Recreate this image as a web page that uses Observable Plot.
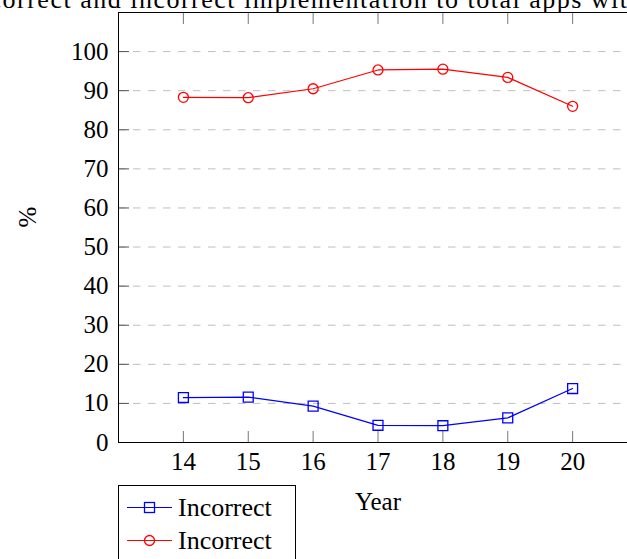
<!DOCTYPE html>
<html><head><meta charset="utf-8">
<script src="https://cdn.jsdelivr.net/npm/d3@7"></script>
<script src="https://cdn.jsdelivr.net/npm/@observablehq/plot@0.6"></script>
<style>
html,body{margin:0;padding:0;background:#fff;overflow:hidden;}
#wrap{position:relative;width:627px;height:559px;overflow:hidden;font-family:"Liberation Serif",serif;color:#000;}
#wrap > svg{position:absolute;left:0;top:0;}
#legend{position:absolute;left:118px;top:485px;width:178px;height:100px;border:1px solid #000;background:#fff;box-sizing:border-box;padding-top:5px;}
.row{display:flex;align-items:center;height:33px;font-size:26px;line-height:33px;}
.row svg{display:block;flex:none;}
</style></head><body><div id="wrap"></div>
<script>
const years = [14, 15, 16, 17, 18, 19, 20];
const incorrect = [11.5, 11.6, 9.3, 4.4, 4.3, 6.3, 13.8];
const correct = [88.3, 88.2, 90.5, 95.3, 95.5, 93.4, 86.0];
const yTicks = [0, 10, 20, 30, 40, 50, 60, 70, 80, 90, 100];
const xTicks = [14, 15, 16, 17, 18, 19, 20];
const seriesNames = ["Incorrect", "Incorrect"];
const seriesColors = ["#0000ff", "#ff0000"];
const titleText = "correct and incorrect implementation to total apps with";
const yLabel = "%";
const xLabel = "Year";

const blue = years.map((x, i) => ({x, y: incorrect[i]}));
const red = years.map((x, i) => ({x, y: correct[i]}));

const chart = Plot.plot({
  width: 660, height: 559,
  marginLeft: 118, marginRight: 23, marginTop: 12, marginBottom: 117,
  style: {fontFamily: '"Liberation Serif", serif', fontSize: "25px", color: "#000", background: "transparent", maxWidth: "none", overflow: "visible"},
  x: {domain: [13, 21], label: null},
  y: {domain: [0, 110], label: null},
  marks: [
    Plot.gridY(yTicks, {stroke: "#bfbfbf", strokeOpacity: 1, strokeDasharray: "7.5,7.5"}),
    Plot.axisY(yTicks, {anchor: "left", tickSize: 11, dx: 11, tickFormat: () => "", stroke: "#555", label: null}),
    Plot.axisY(yTicks, {anchor: "left", tickSize: 0, tickPadding: 10, fontSize: 25, label: null}),
    Plot.axisX(xTicks, {anchor: "bottom", tickSize: 11, dy: -11, tickFormat: () => "", stroke: "#777", label: null}),
    Plot.axisX(xTicks, {anchor: "top", tickSize: 11, dy: 11, tickFormat: () => "", stroke: "#777", label: null}),
    Plot.axisX(xTicks, {anchor: "bottom", tickSize: 0, tickPadding: 10, fontSize: 25, label: null}),
    Plot.frame({stroke: "#000", strokeWidth: 1}),
    Plot.line(blue, {x: "x", y: "y", stroke: seriesColors[0], strokeWidth: 1.2}),
    Plot.dot(blue, {x: "x", y: "y", symbol: "square", r: 5.6, stroke: seriesColors[0], strokeWidth: 1.3, fill: "none"}),
    Plot.line(red, {x: "x", y: "y", stroke: seriesColors[1], strokeWidth: 1.2}),
    Plot.dot(red, {x: "x", y: "y", symbol: "circle", r: 5, stroke: seriesColors[1], strokeWidth: 1.3, fill: "none"}),
    Plot.text([yLabel], {text: d => d, frameAnchor: "left", dx: -91, rotate: -90, fontSize: 25}),
    Plot.text([xLabel], {text: d => d, frameAnchor: "bottom", dy: 59, lineAnchor: "middle", fontSize: 25}),
    Plot.text([titleText], {text: d => d, frameAnchor: "top-left", textAnchor: "start", dx: -129, dy: -5, lineAnchor: "bottom", fontSize: 26})
  ]
});
document.getElementById("wrap").appendChild(chart);

d3.select(chart).selectAll("text").filter(function() { return this.textContent === titleText; })
  .attr("textLength", 652).attr("lengthAdjust", "spacing");

const legend = d3.select("#wrap").append("div").attr("id", "legend");
seriesNames.forEach((name, i) => {
  const row = legend.append("div").attr("class", "row");
  const s = row.append("svg").attr("width", 59).attr("height", 33);
  s.append("line").attr("x1", 8).attr("x2", 53).attr("y1", 16.5).attr("y2", 16.5)
    .attr("stroke", seriesColors[i]).attr("stroke-width", 1.2);
  if (i === 0) {
    s.append("rect").attr("x", 25.5).attr("y", 11.5).attr("width", 10).attr("height", 10)
      .attr("fill", "none").attr("stroke", seriesColors[i]).attr("stroke-width", 1.3);
  } else {
    s.append("circle").attr("cx", 30.5).attr("cy", 16.5).attr("r", 5)
      .attr("fill", "none").attr("stroke", seriesColors[i]).attr("stroke-width", 1.3);
  }
  row.append("span").text(name);
});
</script>
</body></html>
